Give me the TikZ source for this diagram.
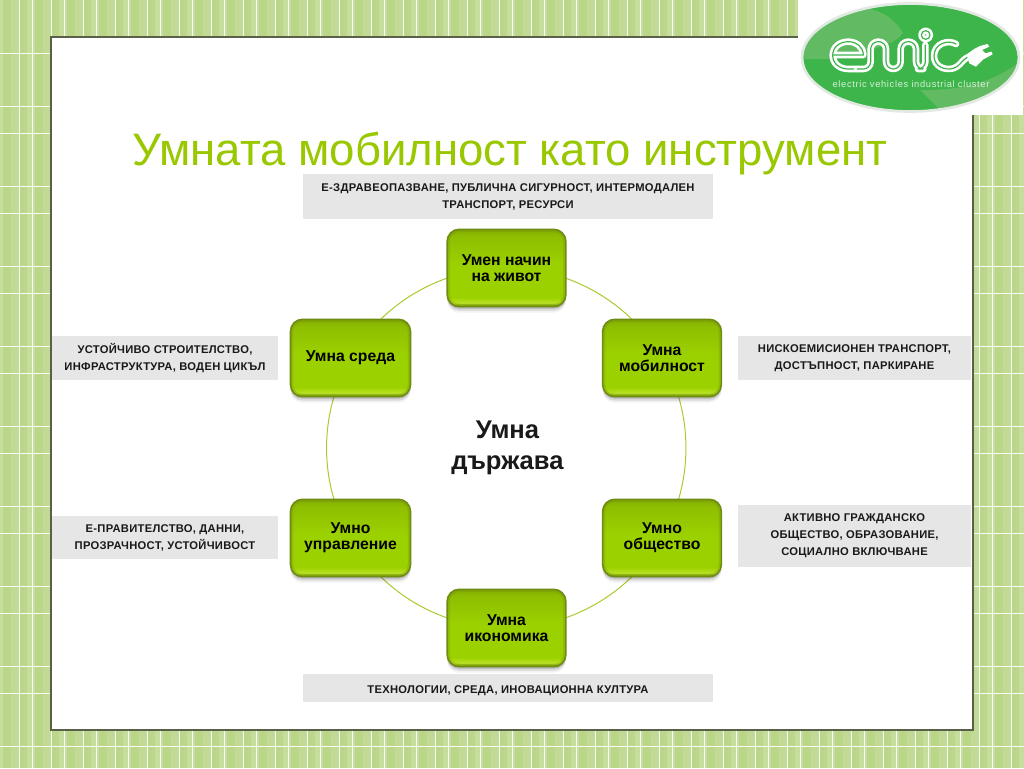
\documentclass[tikz,border=0pt]{standalone}
\usepackage{fontspec}
\setmainfont{Liberation Sans}
\usetikzlibrary{shadows}
\pgfdeclarelayer{front}
\pgfsetlayers{main,front}
\definecolor{titlegreen}{HTML}{99C800}
\definecolor{arcgreen}{HTML}{A8CC30}
\definecolor{tagfill}{HTML}{E6E6E6}
\definecolor{frameedge}{HTML}{5A6048}
\definecolor{boxedge}{HTML}{6F8C12}
\definecolor{logogreen}{HTML}{3DB54A}
\definecolor{logolight}{HTML}{62BB62}
\definecolor{logorim}{HTML}{E2E8E2}
\definecolor{toneA}{HTML}{B9D689}
\definecolor{toneB}{HTML}{C1DB96}
\definecolor{toneC}{HTML}{BCD78D}
\definecolor{toneD}{HTML}{C6DD9E}
\pgfdeclareverticalshading{greenbox}{100bp}{
 rgb(0bp)=(.46,.58,.02); rgb(25bp)=(.46,.58,.02); rgb(26.2bp)=(.56,.72,.02);
 rgb(27.5bp)=(.72,.88,.15); rgb(29.5bp)=(.66,.85,.05); rgb(31bp)=(.61,.82,0); rgb(52bp)=(.61,.82,0);
 rgb(70bp)=(.56,.75,0); rgb(75bp)=(.52,.68,0); rgb(100bp)=(.52,.68,0)}
\tikzset{
 greennode/.style={draw=boxedge,line width=1.2pt,rounded corners=9pt,shade,shading=greenbox,
   minimum height=58pt,align=center,font=\fontsize{11.8pt}{12pt}\selectfont\bfseries,text=black,
   general shadow={shadow xshift=0pt,shadow yshift=-1.5pt,fill=black,opacity=.16},
   general shadow={shadow xshift=0pt,shadow yshift=-3pt,fill=black,opacity=.10},
   general shadow={shadow xshift=0pt,shadow yshift=-4.5pt,fill=black,opacity=.05},
   path picture={\draw[boxedge,line width=4pt,draw opacity=.28,rounded corners=9pt]
     (path picture bounding box.south west) rectangle (path picture bounding box.north east);}},
 tagbox/.style={fill=tagfill,inner sep=0pt,align=center,
   execute at begin node={\rule{0pt}{9.6pt}},
   font=\fontsize{8.4pt}{12.8pt}\selectfont\bfseries\addfontfeature{LetterSpace=2.5},text=black!90},
 ringarc/.style={draw=arcgreen,line width=.75pt,bend left=30,looseness=.91},
 logoline/.style={draw=white,line width=2pt,double=logogreen,double distance=.9pt,line cap=round,line join=round}
}
\begin{document}
\begin{tikzpicture}[x=.75pt,y=-.75pt]
\useasboundingbox (0,0) rectangle (1024,768);
% patterned backdrop
\fill[toneC] (0,0) rectangle (1024,768);
\foreach \k in {-1,...,32}{
  \pgfmathsetmacro{\xa}{3+32*\k}
  \fill[toneA] (\xa,0) rectangle ++(8,768);
  \fill[toneB] (\xa+8,0) rectangle ++(8,768);
  \fill[toneA] (\xa+16,0) rectangle ++(4,768);
  \fill[toneD] (\xa+24,0) rectangle ++(8,768);
}
\foreach \k in {0,...,31}{
  \draw[white,line width=.6pt,draw opacity=.9] ({19+32*\k},0) -- ++(0,768);
  \draw[white,line width=.6pt,draw opacity=.9] ({32+32*\k},0) -- ++(0,768);
}
\foreach \k in {0,...,8}{
  \draw[white,line width=.6pt,draw opacity=.9] (0,{53+80*\k}) -- ++(1024,0);
  \draw[white,line width=.6pt,draw opacity=.9] (0,{106.5+80*\k}) -- ++(1024,0);
}
% slide panel
\fill[white] (51,37) rectangle (973,730);
\draw[frameedge,line width=1pt] (51,37) rectangle (973,730);
\fill[white] (798,0) rectangle (1023,115);
% logo
\begin{scope}
\path[clip] (910.5,57.5) ellipse [x radius=107.5,y radius=53];
\fill[logogreen] (800,0) rectangle (1024,115);
\fill[logolight] (800,59) -- (830,59) .. controls (860,50) and (890,50) .. (903,33) .. controls (895,20) and (885,12) .. (866,8) -- (800,8) -- cycle;
\fill[logolight] (920,90) .. controls (960,90) and (990,85) .. (1024,59) -- (1024,115) -- (945,115) -- cycle;
\end{scope}
\draw[logorim,line width=2pt] (910.5,57.5) ellipse [x radius=108.5,y radius=54];
\begin{scope}[shift={(780,0)},x=.25pt,y=-.25pt]
\draw[logoline] (162,165) -- (250,165) .. controls (250,140) and (228,125) .. (205,125) .. controls (178,125) and (158,142) .. (158,166) .. controls (158,190) and (178,207) .. (205,207) -- (232,207);
\draw[logoline,rounded corners=5.5pt] (232,207) -- (272,207) -- (272,125) -- (318,125) -- (318,207) -- (362,207) -- (362,125) -- (408,125) -- (408,207) -- (436,207) -- (436,135);
\draw[logoline] (437,105) circle [radius=13];
\draw[logoline] (528,132) .. controls (505,118) and (462,130) .. (462,168) .. controls (462,200) and (495,212) .. (520,205) .. controls (540,200) and (545,180) .. (562,172);
\fill[white] (560,163) -- (584,146) -- (600,138) -- (622,132) -- (628,140) -- (606,150) -- (616,160) -- (634,155) -- (638,163) -- (610,178) -- (588,200) -- (568,190) -- cycle;
\end{scope}
\node[inner sep=0pt,text=white!80!logogreen,font=\fontsize{7pt}{8pt}\selectfont\addfontfeature{LetterSpace=7}] (logotext) at (911,84) {electric vehicles industrial cluster};
% title
\node[inner sep=0pt,anchor=base,text=titlegreen,font=\fontsize{34.15pt}{36pt}\selectfont] (title) at (510,165) {Умната мобилност като инструмент};
% tags
\node[tagbox,minimum width=307.5pt,minimum height=33.5pt] (tagtop) at (508,196.5) {Е-ЗДРАВЕОПАЗВАНЕ, ПУБЛИЧНА СИГУРНОСТ, ИНТЕРМОДАЛЕН\\ТРАНСПОРТ, РЕСУРСИ};
\node[tagbox,minimum width=169.5pt,minimum height=33pt] (tagleft) at (165,358) {УСТОЙЧИВО СТРОИТЕЛСТВО,\\ИНФРАСТРУКТУРА, ВОДЕН ЦИКЪЛ};
\node[tagbox,minimum width=174.5pt,minimum height=33pt] (tagright) at (854.5,358) {НИСКОЕМИСИОНЕН ТРАНСПОРТ,\\ДОСТЪПНОСТ, ПАРКИРАНЕ};
\node[tagbox,minimum width=169.5pt,minimum height=32.5pt] (tagll) at (165,537.5) {Е-ПРАВИТЕЛСТВО, ДАННИ,\\ПРОЗРАЧНОСТ, УСТОЙЧИВОСТ};
\node[tagbox,minimum width=174.5pt,minimum height=46.5pt] (taglr) at (854.5,536) {АКТИВНО ГРАЖДАНСКО\\ОБЩЕСТВО, ОБРАЗОВАНИЕ,\\СОЦИАЛНО ВКЛЮЧВАНЕ};
\node[tagbox,minimum width=307.5pt,minimum height=21pt] (tagbot) at (508,688) {ТЕХНОЛОГИИ, СРЕДА, ИНОВАЦИОННА КУЛТУРА};
% boxes
\begin{pgfonlayer}{front}
\node[greennode,minimum width=89pt] (life) at (506.5,268) {Умен начин\\на живот};
\node[greennode,minimum width=89pt] (mob) at (662,358) {Умна\\мобилност};
\node[greennode,minimum width=90pt] (env) at (350.5,358) {\raisebox{-1.5pt}{Умна среда}};
\node[greennode,minimum width=90pt] (gov) at (350.5,538) {Умно\\управление};
\node[greennode,minimum width=89pt] (soc) at (662,538) {Умно\\общество};
\node[greennode,minimum width=89pt] (eco) at (506.5,628) {Умна\\икономика};
\end{pgfonlayer}
% ring
\draw[ringarc] (life.center) to (mob.center);
\draw[ringarc] (mob.center) to (soc.center);
\draw[ringarc] (soc.center) to (eco.center);
\draw[ringarc] (eco.center) to (gov.center);
\draw[ringarc] (gov.center) to (env.center);
\draw[ringarc] (env.center) to (life.center);
% centre
\node[inner sep=0pt,align=center,font=\fontsize{19.2pt}{23.25pt}\selectfont\bfseries,text=black!90] (hub) at (507.5,448) {Умна\\държава};
\end{tikzpicture}
\end{document}
